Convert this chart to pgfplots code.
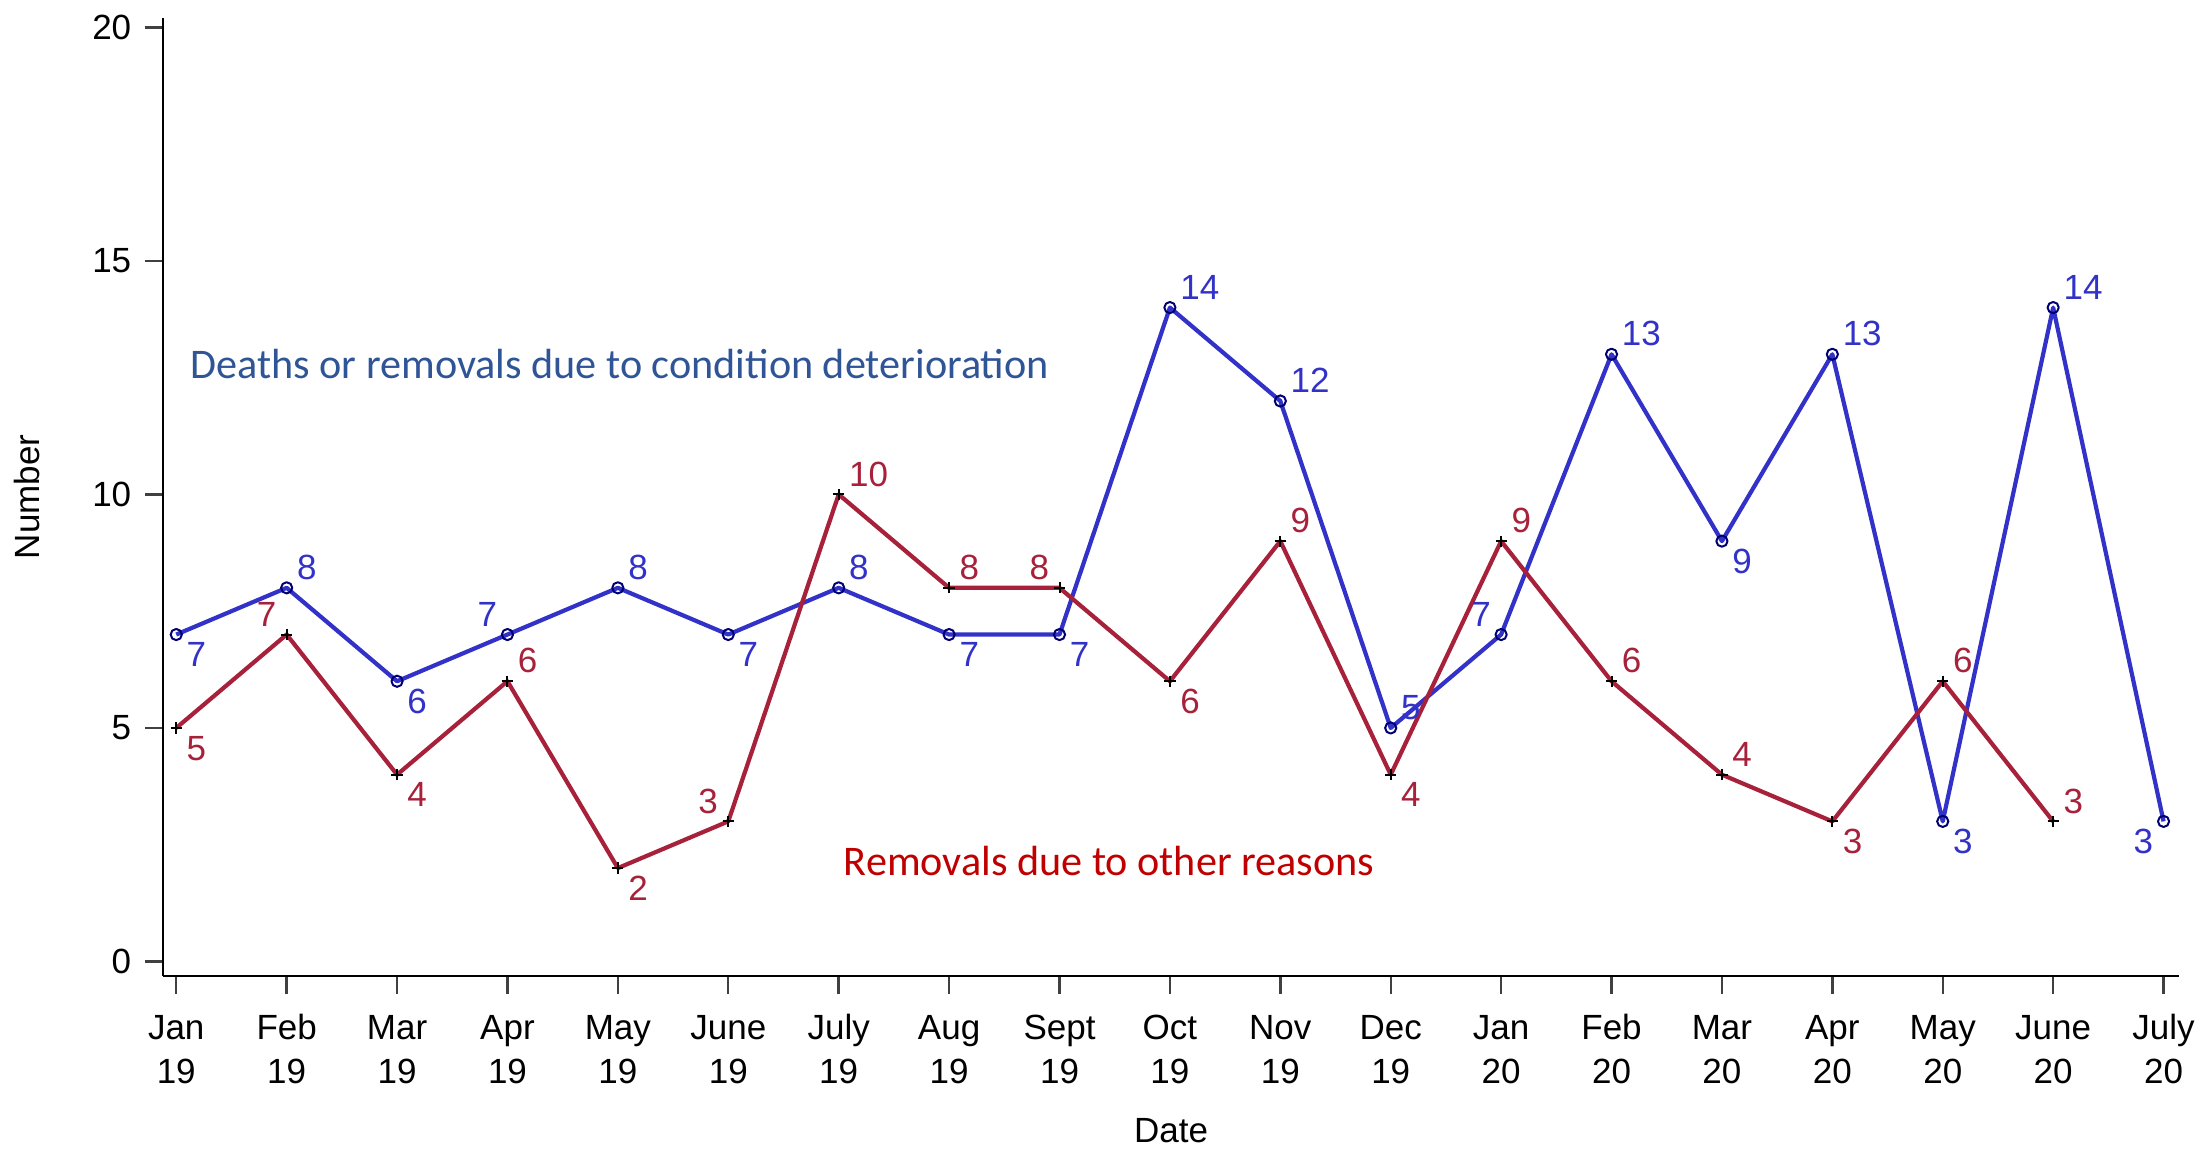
\documentclass[border=0pt]{standalone}
\usepackage{pgfplots}
\pgfplotsset{compat=1.18}
\usepackage{pgfplotstable}
\usepackage{fontspec}
\setmainfont{Liberation Sans}
\newfontfamily\calibri{Carlito}
\definecolor{bline}{HTML}{3232C8}
\definecolor{rline}{HTML}{A8213A}
\definecolor{bnote}{HTML}{2F5597}
\definecolor{rnote}{HTML}{C00000}
\def\ancsw{south west}
\def\ancnw{north west}
\def\ancse{south east}
\def\ancne{north east}
\pgfplotstableread{
x y a
0 7 nw
1 8 sw
2 6 nw
3 7 se
4 8 sw
5 7 nw
6 8 sw
7 7 nw
8 7 nw
9 14 sw
10 12 sw
11 5 sw
12 7 se
13 13 sw
14 9 nw
15 13 sw
16 3 nw
17 14 sw
18 3 ne
}\bluedata
\pgfplotstableread{
x y a
0 5 nw
1 7 se
2 4 nw
3 6 sw
4 2 nw
5 3 se
6 10 sw
7 8 sw
8 8 se
9 6 nw
10 9 sw
11 4 nw
12 9 sw
13 6 sw
14 4 sw
15 3 nw
16 6 sw
17 3 sw
}\reddata
\begin{document}
\begin{tikzpicture}
\begin{axis}[name=ax, scale only axis, width=504pt, height=239.5pt,
  xmin=-0.12, xmax=18.14, ymin=-0.31, ymax=20.2,
  axis x line=bottom, axis y line=left,
  axis line style={-, black, line width=0.5pt},
  tick align=outside, major tick length=4.5pt,
  every tick/.style={black!75, line width=0.6pt},
  xtick={0,...,18},
  xticklabels={\strut Jan\\19,\strut Feb\\19,\strut Mar\\19,\strut Apr\\19,\strut May\\19,\strut June\\19,\strut July\\19,\strut Aug\\19,\strut Sept\\19,\strut Oct\\19,\strut Nov\\19,\strut Dec\\19,\strut Jan\\20,\strut Feb\\20,\strut Mar\\20,\strut Apr\\20,\strut May\\20,\strut June\\20,\strut July\\20},
  xticklabel style={align=center, inner sep=0pt, anchor=north, yshift=-3.57pt, font=\fontsize{8.75}{11}\selectfont},
  ytick={0,5,10,15,20},
  yticklabel style={inner sep=0pt, anchor=east, xshift=-3.25pt, font=\fontsize{8.75}{11}\selectfont},
  /pgf/number format/assume math mode=true,
  xlabel={Date}, ylabel={Number},
  xlabel style={at={(axis description cs:0.5,-0.1613)}, anchor=center, inner sep=0pt, font=\fontsize{8.75}{11}\selectfont},
  ylabel style={at={(axis description cs:-0.0675,0.5)}, anchor=center, inner sep=0pt, font=\fontsize{8.75}{11}\selectfont},
  clip=false,
  every node near coord/.append style={inner sep=0pt, outer xsep=2.6pt, outer ysep=2pt, font=\fontsize{8.75}{11}\selectfont},
]
\addplot[bline, line width=1.05pt, line join=round, mark=o, mark size=1.4pt,
  mark options={draw=black!55!blue, line width=0.5pt, fill=none},
  point meta=explicit symbolic,
  visualization depends on={rawy\as\ly},
  nodes near coords={\pgfmathprintnumber{\ly}},
  every node near coord/.append style={anchor=\csname anc\pgfplotspointmeta\endcsname, text=bline}]
  table[x=x, y=y, meta=a] {\bluedata};
\addplot[rline, line width=1.05pt, line join=round, mark=+, mark size=1.4pt,
  mark options={draw=black, line width=0.5pt},
  point meta=explicit symbolic,
  visualization depends on={rawy\as\ly},
  nodes near coords={\pgfmathprintnumber{\ly}},
  every node near coord/.append style={anchor=\csname anc\pgfplotspointmeta\endcsname, text=rline}]
  table[x=x, y=y, meta=a] {\reddata};
\node[anchor=west, inner sep=0pt, text=bnote, font=\calibri\fontsize{10.55}{12}\selectfont] at (axis cs:0.122,12.8) {Deaths or removals due to condition deterioration};
\node[anchor=west, inner sep=0pt, text=rnote, font=\calibri\fontsize{10.55}{12}\selectfont] at (axis cs:6.04,2.16) {Removals due to other reasons};
\end{axis}
\pgfresetboundingbox
\path[use as bounding box] ([shift={(-40.75pt,-44pt)}]ax.south west) rectangle ([shift={(509.5pt,244pt)}]ax.south west);
\end{tikzpicture}
\end{document}
